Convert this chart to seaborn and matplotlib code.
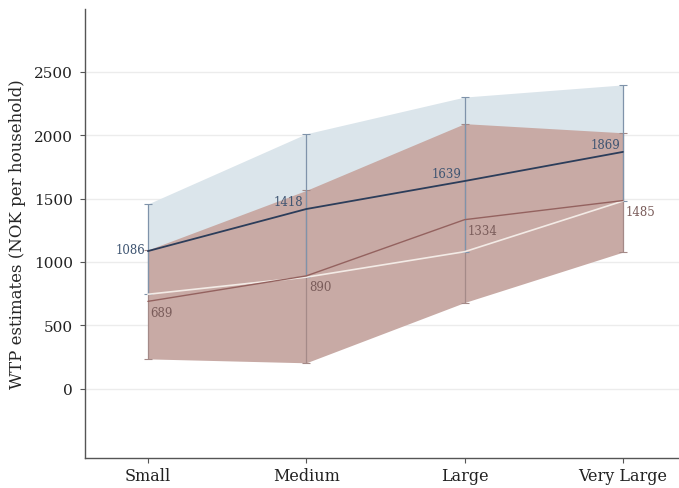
import numpy as np
import pandas as pd
import matplotlib
matplotlib.use("Agg")
import matplotlib.pyplot as plt
import seaborn as sns

categories = ["Small", "Medium", "Large", "Very Large"]
blue_mean = [1086, 1418, 1639, 1869]
blue_low = [745, 880, 1081, 1481]
blue_high = [1458, 2012, 2302, 2398]
red_mean = [689, 890, 1334, 1485]
red_low = [235, 204, 680, 1078]
red_high = [1095, 1565, 2092, 2020]
yticks = [0, 500, 1000, 1500, 2000, 2500]

sns.set_theme(style="white")
plt.rcParams["font.family"] = ["DejaVu Serif"]

pos = np.arange(len(categories))
df = pd.DataFrame({"pos": pos, "blue": blue_mean, "blue_low": blue_low,
                   "blue_high": blue_high, "red": red_mean,
                   "red_low": red_low, "red_high": red_high})

fig = plt.figure(figsize=(6.79, 4.89), dpi=100)
ax = fig.add_axes([0.125, 0.062, 0.875, 0.917])

for y in yticks:
    ax.axhline(y, color="#ececec", lw=1.0, zorder=0)

blue_fill = "#dbe5eb"
red_fill = "#c8aaa5"
ax.fill_between(df["pos"], df["blue_low"], df["blue_high"], color=blue_fill, lw=0, zorder=1)
ax.fill_between(df["pos"], df["red_low"], df["red_high"], color=red_fill, lw=0, zorder=2)

# error bars
ax.errorbar(df["pos"], df["red"], yerr=[df["red"] - df["red_low"], df["red_high"] - df["red"]],
            fmt="none", ecolor="#a48a88", elinewidth=0.9, capsize=3, capthick=0.8, zorder=3)
ax.errorbar(df["pos"], df["blue"], yerr=[df["blue"] - df["blue_low"], df["blue_high"] - df["blue"]],
            fmt="none", ecolor="#7f93aa", elinewidth=0.9, capsize=3, capthick=0.8, zorder=3)

sns.lineplot(data=df, x="pos", y="blue_low", color="#f3ebe6", lw=1.2, ax=ax, zorder=4)
sns.lineplot(data=df, x="pos", y="red", color="#94625f", lw=1.0, ax=ax, zorder=5)
sns.lineplot(data=df, x="pos", y="blue", color="#2c3d5a", lw=1.3, ax=ax, zorder=6)

for p, v in zip(pos, blue_mean):
    ax.annotate(f"{v}", (p, v), xytext=(-2, 1), textcoords="offset points",
                ha="right", va="bottom" if p > 0 else "center", fontsize=8.5,
                color="#3f5572", zorder=7)
for p, v in zip(pos, red_mean):
    ax.annotate(f"{v}", (p, v), xytext=(2, -3), textcoords="offset points",
                ha="left", va="top", fontsize=8.5, color="#7a5c5a", zorder=7)

ax.set_xlim(-0.398, 3.354)
ax.set_ylim(-545, 2995)
ax.set_xticks(pos)
ax.set_xticklabels(categories, fontsize=11.5)
ax.set_yticks(yticks)
ax.set_yticklabels([str(t) for t in yticks], fontsize=11)
ax.set_xlabel("")
ax.set_ylabel("WTP estimates (NOK per household)", fontsize=12, labelpad=6)

for s in ["top", "right"]:
    ax.spines[s].set_visible(False)
for s in ["left", "bottom"]:
    ax.spines[s].set_color("#555555")
    ax.spines[s].set_linewidth(1.0)
ax.tick_params(axis="both", direction="out", length=3.5, width=0.8, color="#555555",
               left=True, bottom=True, labelcolor="#222222")
ax.tick_params(axis="x", pad=3)
ax.tick_params(axis="y", pad=5)
ax.grid(False)

fig.savefig("out.png", dpi=100)
